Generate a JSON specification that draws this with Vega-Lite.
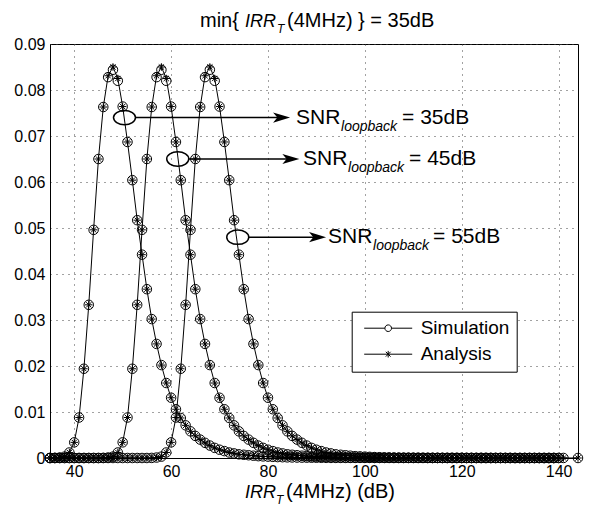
{
"$schema": "https://vega.github.io/schema/vega-lite/v6.json",
"autosize": "none",
"width": 528,
"height": 414,
"padding": {"left": 50, "top": 44, "right": 24, "bottom": 50},
"config": {
 "font": "Liberation Sans",
 "view": {"stroke": "black", "strokeWidth": 1},
 "axis": {"domainColor": "black", "labelColor": "black", "labelFontSize": 16, "labelFont": "Liberation Sans", "ticks": false, "grid": true, "gridColor": "#444", "gridDash": [1, 5], "gridWidth": 1, "labelPadding": 5}
},
"datasets": {
 "curves": [
{"snr":"35dB","irr":35,"sim":0,"ana":0},{"snr":"35dB","irr":36,"sim":0.00002,"ana":0.00002},{"snr":"35dB","irr":37,"sim":0.0001,"ana":0.0001},{"snr":"35dB","irr":38,"sim":0.0003,"ana":0.0003},{"snr":"35dB","irr":39,"sim":0.0012,"ana":0.0012},{"snr":"35dB","irr":40,"sim":0.0034,"ana":0.0034},{"snr":"35dB","irr":41,"sim":0.0088,"ana":0.0088},{"snr":"35dB","irr":42,"sim":0.0194,"ana":0.0194},{"snr":"35dB","irr":43,"sim":0.0333,"ana":0.0333},{"snr":"35dB","irr":44,"sim":0.0496,"ana":0.0496},{"snr":"35dB","irr":45,"sim":0.065,"ana":0.065},{"snr":"35dB","irr":46,"sim":0.0763,"ana":0.0763},{"snr":"35dB","irr":47,"sim":0.0828,"ana":0.0831},{"snr":"35dB","irr":48,"sim":0.0844,"ana":0.085},{"snr":"35dB","irr":49,"sim":0.082,"ana":0.0825},{"snr":"35dB","irr":50,"sim":0.0764,"ana":0.0764},{"snr":"35dB","irr":51,"sim":0.0687,"ana":0.0687},{"snr":"35dB","irr":52,"sim":0.0604,"ana":0.0604},{"snr":"35dB","irr":53,"sim":0.0517,"ana":0.0517},{"snr":"35dB","irr":54,"sim":0.0442,"ana":0.0442},{"snr":"35dB","irr":55,"sim":0.0367,"ana":0.0367},{"snr":"35dB","irr":56,"sim":0.0302,"ana":0.0302},{"snr":"35dB","irr":57,"sim":0.0248,"ana":0.0248},{"snr":"35dB","irr":58,"sim":0.0202,"ana":0.0202},{"snr":"35dB","irr":59,"sim":0.0163,"ana":0.0163},{"snr":"35dB","irr":60,"sim":0.0131,"ana":0.0131},{"snr":"35dB","irr":61,"sim":0.0106,"ana":0.0106},{"snr":"35dB","irr":62,"sim":0.0087,"ana":0.0087},{"snr":"35dB","irr":63,"sim":0.0071,"ana":0.0071},{"snr":"35dB","irr":64,"sim":0.0058,"ana":0.0058},{"snr":"35dB","irr":65,"sim":0.0048,"ana":0.0048},{"snr":"35dB","irr":66,"sim":0.004,"ana":0.004},{"snr":"35dB","irr":67,"sim":0.0033,"ana":0.0033},{"snr":"35dB","irr":68,"sim":0.0027,"ana":0.0027},{"snr":"35dB","irr":69,"sim":0.0022,"ana":0.0022},{"snr":"35dB","irr":70,"sim":0.0018,"ana":0.0018},{"snr":"35dB","irr":71,"sim":0.0015,"ana":0.0015},{"snr":"35dB","irr":72,"sim":0.0012,"ana":0.0012},{"snr":"35dB","irr":73,"sim":0.001,"ana":0.001},{"snr":"35dB","irr":74,"sim":0.0008,"ana":0.0008},{"snr":"35dB","irr":75,"sim":0.0007,"ana":0.0007},{"snr":"35dB","irr":76,"sim":0.0006,"ana":0.0006},{"snr":"35dB","irr":77,"sim":0.0005,"ana":0.0005},{"snr":"35dB","irr":78,"sim":0.0004,"ana":0.0004},{"snr":"35dB","irr":79,"sim":0.00035,"ana":0.00035},{"snr":"35dB","irr":80,"sim":0.0003,"ana":0.0003},{"snr":"35dB","irr":81,"sim":0.00025,"ana":0.00025},{"snr":"35dB","irr":82,"sim":0.0002,"ana":0.0002},{"snr":"35dB","irr":83,"sim":0.00017,"ana":0.00017},{"snr":"35dB","irr":84,"sim":0.00014,"ana":0.00014},{"snr":"35dB","irr":85,"sim":0.00012,"ana":0.00012},{"snr":"35dB","irr":86,"sim":0.0001,"ana":0.0001},{"snr":"35dB","irr":87,"sim":0.00008,"ana":0.00008},{"snr":"35dB","irr":88,"sim":0.00007,"ana":0.00007},{"snr":"35dB","irr":89,"sim":0.00006,"ana":0.00006},{"snr":"35dB","irr":90,"sim":0.00005,"ana":0.00005},{"snr":"35dB","irr":91,"sim":0.00004,"ana":0.00004},{"snr":"35dB","irr":92,"sim":0.00003,"ana":0.00003},{"snr":"35dB","irr":93,"sim":0.00002,"ana":0.00002},{"snr":"35dB","irr":94,"sim":0.00002,"ana":0.00002},{"snr":"35dB","irr":95,"sim":0.00002,"ana":0.00002},{"snr":"35dB","irr":96,"sim":0.00002,"ana":0.00002},{"snr":"35dB","irr":97,"sim":0.00002,"ana":0.00002},{"snr":"35dB","irr":98,"sim":0.00002,"ana":0.00002},{"snr":"35dB","irr":99,"sim":0.00002,"ana":0.00002},{"snr":"35dB","irr":100,"sim":0.00002,"ana":0.00002},{"snr":"35dB","irr":101,"sim":0.00002,"ana":0.00002},{"snr":"35dB","irr":102,"sim":0.00002,"ana":0.00002},{"snr":"35dB","irr":103,"sim":0.00002,"ana":0.00002},{"snr":"35dB","irr":104,"sim":0.00002,"ana":0.00002},{"snr":"35dB","irr":105,"sim":0.00002,"ana":0.00002},{"snr":"35dB","irr":106,"sim":0.00001,"ana":0.00001},{"snr":"35dB","irr":107,"sim":0.00001,"ana":0.00001},{"snr":"35dB","irr":108,"sim":0.00001,"ana":0.00001},{"snr":"35dB","irr":109,"sim":0.00001,"ana":0.00001},{"snr":"35dB","irr":110,"sim":0.00001,"ana":0.00001},{"snr":"35dB","irr":111,"sim":0.00001,"ana":0.00001},{"snr":"35dB","irr":112,"sim":0.00001,"ana":0.00001},{"snr":"35dB","irr":113,"sim":0.00001,"ana":0.00001},{"snr":"35dB","irr":114,"sim":0.00001,"ana":0.00001},{"snr":"35dB","irr":115,"sim":0.00001,"ana":0.00001},{"snr":"35dB","irr":116,"sim":0.00001,"ana":0.00001},{"snr":"35dB","irr":117,"sim":0.00001,"ana":0.00001},{"snr":"35dB","irr":118,"sim":0.00001,"ana":0.00001},{"snr":"35dB","irr":119,"sim":0.00001,"ana":0.00001},{"snr":"35dB","irr":120,"sim":0.00001,"ana":0.00001},{"snr":"35dB","irr":121,"sim":0,"ana":0},{"snr":"35dB","irr":122,"sim":0,"ana":0},{"snr":"35dB","irr":123,"sim":0,"ana":0},{"snr":"35dB","irr":124,"sim":0,"ana":0},{"snr":"35dB","irr":125,"sim":0,"ana":0},{"snr":"35dB","irr":126,"sim":0,"ana":0},{"snr":"35dB","irr":127,"sim":0,"ana":0},{"snr":"35dB","irr":128,"sim":0,"ana":0},{"snr":"35dB","irr":129,"sim":0,"ana":0},{"snr":"35dB","irr":130,"sim":0,"ana":0},{"snr":"35dB","irr":131,"sim":0,"ana":0},{"snr":"35dB","irr":132,"sim":0,"ana":0},{"snr":"35dB","irr":133,"sim":0,"ana":0},{"snr":"35dB","irr":134,"sim":0,"ana":0},{"snr":"35dB","irr":135,"sim":0,"ana":0},{"snr":"35dB","irr":136,"sim":0,"ana":0},{"snr":"35dB","irr":137,"sim":0,"ana":0},{"snr":"35dB","irr":138,"sim":0,"ana":0},{"snr":"35dB","irr":139,"sim":0,"ana":0},
{"snr":"45dB","irr":35,"sim":0,"ana":0},{"snr":"45dB","irr":36,"sim":0,"ana":0},{"snr":"45dB","irr":37,"sim":0,"ana":0},{"snr":"45dB","irr":38,"sim":0,"ana":0},{"snr":"45dB","irr":39,"sim":0,"ana":0},{"snr":"45dB","irr":40,"sim":0,"ana":0},{"snr":"45dB","irr":41,"sim":0,"ana":0},{"snr":"45dB","irr":42,"sim":0,"ana":0},{"snr":"45dB","irr":43,"sim":0,"ana":0},{"snr":"45dB","irr":44,"sim":0,"ana":0},{"snr":"45dB","irr":45,"sim":0,"ana":0},{"snr":"45dB","irr":46,"sim":0.00002,"ana":0.00002},{"snr":"45dB","irr":47,"sim":0.0001,"ana":0.0001},{"snr":"45dB","irr":48,"sim":0.0003,"ana":0.0003},{"snr":"45dB","irr":49,"sim":0.0012,"ana":0.0012},{"snr":"45dB","irr":50,"sim":0.0034,"ana":0.0034},{"snr":"45dB","irr":51,"sim":0.0088,"ana":0.0088},{"snr":"45dB","irr":52,"sim":0.0194,"ana":0.0194},{"snr":"45dB","irr":53,"sim":0.0333,"ana":0.0333},{"snr":"45dB","irr":54,"sim":0.0496,"ana":0.0496},{"snr":"45dB","irr":55,"sim":0.065,"ana":0.065},{"snr":"45dB","irr":56,"sim":0.0763,"ana":0.0763},{"snr":"45dB","irr":57,"sim":0.0828,"ana":0.0831},{"snr":"45dB","irr":58,"sim":0.0844,"ana":0.085},{"snr":"45dB","irr":59,"sim":0.082,"ana":0.0825},{"snr":"45dB","irr":60,"sim":0.0764,"ana":0.0764},{"snr":"45dB","irr":61,"sim":0.0687,"ana":0.0687},{"snr":"45dB","irr":62,"sim":0.0604,"ana":0.0604},{"snr":"45dB","irr":63,"sim":0.0517,"ana":0.0517},{"snr":"45dB","irr":64,"sim":0.0442,"ana":0.0442},{"snr":"45dB","irr":65,"sim":0.0367,"ana":0.0367},{"snr":"45dB","irr":66,"sim":0.0302,"ana":0.0302},{"snr":"45dB","irr":67,"sim":0.0248,"ana":0.0248},{"snr":"45dB","irr":68,"sim":0.0202,"ana":0.0202},{"snr":"45dB","irr":69,"sim":0.0163,"ana":0.0163},{"snr":"45dB","irr":70,"sim":0.0131,"ana":0.0131},{"snr":"45dB","irr":71,"sim":0.0106,"ana":0.0106},{"snr":"45dB","irr":72,"sim":0.0087,"ana":0.0087},{"snr":"45dB","irr":73,"sim":0.0071,"ana":0.0071},{"snr":"45dB","irr":74,"sim":0.0058,"ana":0.0058},{"snr":"45dB","irr":75,"sim":0.0048,"ana":0.0048},{"snr":"45dB","irr":76,"sim":0.004,"ana":0.004},{"snr":"45dB","irr":77,"sim":0.0033,"ana":0.0033},{"snr":"45dB","irr":78,"sim":0.0027,"ana":0.0027},{"snr":"45dB","irr":79,"sim":0.0022,"ana":0.0022},{"snr":"45dB","irr":80,"sim":0.0018,"ana":0.0018},{"snr":"45dB","irr":81,"sim":0.0015,"ana":0.0015},{"snr":"45dB","irr":82,"sim":0.0012,"ana":0.0012},{"snr":"45dB","irr":83,"sim":0.001,"ana":0.001},{"snr":"45dB","irr":84,"sim":0.0008,"ana":0.0008},{"snr":"45dB","irr":85,"sim":0.0007,"ana":0.0007},{"snr":"45dB","irr":86,"sim":0.0006,"ana":0.0006},{"snr":"45dB","irr":87,"sim":0.0005,"ana":0.0005},{"snr":"45dB","irr":88,"sim":0.0004,"ana":0.0004},{"snr":"45dB","irr":89,"sim":0.00035,"ana":0.00035},{"snr":"45dB","irr":90,"sim":0.0003,"ana":0.0003},{"snr":"45dB","irr":91,"sim":0.00025,"ana":0.00025},{"snr":"45dB","irr":92,"sim":0.0002,"ana":0.0002},{"snr":"45dB","irr":93,"sim":0.00017,"ana":0.00017},{"snr":"45dB","irr":94,"sim":0.00014,"ana":0.00014},{"snr":"45dB","irr":95,"sim":0.00012,"ana":0.00012},{"snr":"45dB","irr":96,"sim":0.0001,"ana":0.0001},{"snr":"45dB","irr":97,"sim":0.00008,"ana":0.00008},{"snr":"45dB","irr":98,"sim":0.00007,"ana":0.00007},{"snr":"45dB","irr":99,"sim":0.00006,"ana":0.00006},{"snr":"45dB","irr":100,"sim":0.00005,"ana":0.00005},{"snr":"45dB","irr":101,"sim":0.00004,"ana":0.00004},{"snr":"45dB","irr":102,"sim":0.00003,"ana":0.00003},{"snr":"45dB","irr":103,"sim":0.00002,"ana":0.00002},{"snr":"45dB","irr":104,"sim":0.00002,"ana":0.00002},{"snr":"45dB","irr":105,"sim":0.00002,"ana":0.00002},{"snr":"45dB","irr":106,"sim":0.00002,"ana":0.00002},{"snr":"45dB","irr":107,"sim":0.00002,"ana":0.00002},{"snr":"45dB","irr":108,"sim":0.00002,"ana":0.00002},{"snr":"45dB","irr":109,"sim":0.00002,"ana":0.00002},{"snr":"45dB","irr":110,"sim":0.00002,"ana":0.00002},{"snr":"45dB","irr":111,"sim":0.00002,"ana":0.00002},{"snr":"45dB","irr":112,"sim":0.00002,"ana":0.00002},{"snr":"45dB","irr":113,"sim":0.00002,"ana":0.00002},{"snr":"45dB","irr":114,"sim":0.00002,"ana":0.00002},{"snr":"45dB","irr":115,"sim":0.00002,"ana":0.00002},{"snr":"45dB","irr":116,"sim":0.00001,"ana":0.00001},{"snr":"45dB","irr":117,"sim":0.00001,"ana":0.00001},{"snr":"45dB","irr":118,"sim":0.00001,"ana":0.00001},{"snr":"45dB","irr":119,"sim":0.00001,"ana":0.00001},{"snr":"45dB","irr":120,"sim":0.00001,"ana":0.00001},{"snr":"45dB","irr":121,"sim":0.00001,"ana":0.00001},{"snr":"45dB","irr":122,"sim":0.00001,"ana":0.00001},{"snr":"45dB","irr":123,"sim":0.00001,"ana":0.00001},{"snr":"45dB","irr":124,"sim":0.00001,"ana":0.00001},{"snr":"45dB","irr":125,"sim":0.00001,"ana":0.00001},{"snr":"45dB","irr":126,"sim":0.00001,"ana":0.00001},{"snr":"45dB","irr":127,"sim":0.00001,"ana":0.00001},{"snr":"45dB","irr":128,"sim":0.00001,"ana":0.00001},{"snr":"45dB","irr":129,"sim":0.00001,"ana":0.00001},{"snr":"45dB","irr":130,"sim":0.00001,"ana":0.00001},{"snr":"45dB","irr":131,"sim":0,"ana":0},{"snr":"45dB","irr":132,"sim":0,"ana":0},{"snr":"45dB","irr":133,"sim":0,"ana":0},{"snr":"45dB","irr":134,"sim":0,"ana":0},{"snr":"45dB","irr":135,"sim":0,"ana":0},{"snr":"45dB","irr":136,"sim":0,"ana":0},{"snr":"45dB","irr":137,"sim":0,"ana":0},{"snr":"45dB","irr":138,"sim":0,"ana":0},{"snr":"45dB","irr":139,"sim":0,"ana":0},{"snr":"45dB","irr":140,"sim":0,"ana":0},
{"snr":"55dB","irr":35,"sim":0,"ana":0},{"snr":"55dB","irr":36,"sim":0,"ana":0},{"snr":"55dB","irr":37,"sim":0,"ana":0},{"snr":"55dB","irr":38,"sim":0,"ana":0},{"snr":"55dB","irr":39,"sim":0,"ana":0},{"snr":"55dB","irr":40,"sim":0,"ana":0},{"snr":"55dB","irr":41,"sim":0,"ana":0},{"snr":"55dB","irr":42,"sim":0,"ana":0},{"snr":"55dB","irr":43,"sim":0,"ana":0},{"snr":"55dB","irr":44,"sim":0,"ana":0},{"snr":"55dB","irr":45,"sim":0,"ana":0},{"snr":"55dB","irr":46,"sim":0,"ana":0},{"snr":"55dB","irr":47,"sim":0,"ana":0},{"snr":"55dB","irr":48,"sim":0,"ana":0},{"snr":"55dB","irr":49,"sim":0,"ana":0},{"snr":"55dB","irr":50,"sim":0,"ana":0},{"snr":"55dB","irr":51,"sim":0,"ana":0},{"snr":"55dB","irr":52,"sim":0,"ana":0},{"snr":"55dB","irr":53,"sim":0,"ana":0},{"snr":"55dB","irr":54,"sim":0,"ana":0},{"snr":"55dB","irr":55,"sim":0,"ana":0},{"snr":"55dB","irr":56,"sim":0.00002,"ana":0.00002},{"snr":"55dB","irr":57,"sim":0.0001,"ana":0.0001},{"snr":"55dB","irr":58,"sim":0.0003,"ana":0.0003},{"snr":"55dB","irr":59,"sim":0.0012,"ana":0.0012},{"snr":"55dB","irr":60,"sim":0.0034,"ana":0.0034},{"snr":"55dB","irr":61,"sim":0.0088,"ana":0.0088},{"snr":"55dB","irr":62,"sim":0.0194,"ana":0.0194},{"snr":"55dB","irr":63,"sim":0.0333,"ana":0.0333},{"snr":"55dB","irr":64,"sim":0.0496,"ana":0.0496},{"snr":"55dB","irr":65,"sim":0.065,"ana":0.065},{"snr":"55dB","irr":66,"sim":0.0763,"ana":0.0763},{"snr":"55dB","irr":67,"sim":0.0828,"ana":0.0831},{"snr":"55dB","irr":68,"sim":0.0844,"ana":0.085},{"snr":"55dB","irr":69,"sim":0.082,"ana":0.0825},{"snr":"55dB","irr":70,"sim":0.0764,"ana":0.0764},{"snr":"55dB","irr":71,"sim":0.0687,"ana":0.0687},{"snr":"55dB","irr":72,"sim":0.0604,"ana":0.0604},{"snr":"55dB","irr":73,"sim":0.0517,"ana":0.0517},{"snr":"55dB","irr":74,"sim":0.0442,"ana":0.0442},{"snr":"55dB","irr":75,"sim":0.0367,"ana":0.0367},{"snr":"55dB","irr":76,"sim":0.0302,"ana":0.0302},{"snr":"55dB","irr":77,"sim":0.0248,"ana":0.0248},{"snr":"55dB","irr":78,"sim":0.0202,"ana":0.0202},{"snr":"55dB","irr":79,"sim":0.0163,"ana":0.0163},{"snr":"55dB","irr":80,"sim":0.0131,"ana":0.0131},{"snr":"55dB","irr":81,"sim":0.0106,"ana":0.0106},{"snr":"55dB","irr":82,"sim":0.0087,"ana":0.0087},{"snr":"55dB","irr":83,"sim":0.0071,"ana":0.0071},{"snr":"55dB","irr":84,"sim":0.0058,"ana":0.0058},{"snr":"55dB","irr":85,"sim":0.0048,"ana":0.0048},{"snr":"55dB","irr":86,"sim":0.004,"ana":0.004},{"snr":"55dB","irr":87,"sim":0.0033,"ana":0.0033},{"snr":"55dB","irr":88,"sim":0.0027,"ana":0.0027},{"snr":"55dB","irr":89,"sim":0.0022,"ana":0.0022},{"snr":"55dB","irr":90,"sim":0.0018,"ana":0.0018},{"snr":"55dB","irr":91,"sim":0.0015,"ana":0.0015},{"snr":"55dB","irr":92,"sim":0.0012,"ana":0.0012},{"snr":"55dB","irr":93,"sim":0.001,"ana":0.001},{"snr":"55dB","irr":94,"sim":0.0008,"ana":0.0008},{"snr":"55dB","irr":95,"sim":0.0007,"ana":0.0007},{"snr":"55dB","irr":96,"sim":0.0006,"ana":0.0006},{"snr":"55dB","irr":97,"sim":0.0005,"ana":0.0005},{"snr":"55dB","irr":98,"sim":0.0004,"ana":0.0004},{"snr":"55dB","irr":99,"sim":0.00035,"ana":0.00035},{"snr":"55dB","irr":100,"sim":0.0003,"ana":0.0003},{"snr":"55dB","irr":101,"sim":0.00025,"ana":0.00025},{"snr":"55dB","irr":102,"sim":0.0002,"ana":0.0002},{"snr":"55dB","irr":103,"sim":0.00017,"ana":0.00017},{"snr":"55dB","irr":104,"sim":0.00014,"ana":0.00014},{"snr":"55dB","irr":105,"sim":0.00012,"ana":0.00012},{"snr":"55dB","irr":106,"sim":0.0001,"ana":0.0001},{"snr":"55dB","irr":107,"sim":0.00008,"ana":0.00008},{"snr":"55dB","irr":108,"sim":0.00007,"ana":0.00007},{"snr":"55dB","irr":109,"sim":0.00006,"ana":0.00006},{"snr":"55dB","irr":110,"sim":0.00005,"ana":0.00005},{"snr":"55dB","irr":111,"sim":0.00004,"ana":0.00004},{"snr":"55dB","irr":112,"sim":0.00003,"ana":0.00003},{"snr":"55dB","irr":113,"sim":0.00002,"ana":0.00002},{"snr":"55dB","irr":114,"sim":0.00002,"ana":0.00002},{"snr":"55dB","irr":115,"sim":0.00002,"ana":0.00002},{"snr":"55dB","irr":116,"sim":0.00002,"ana":0.00002},{"snr":"55dB","irr":117,"sim":0.00002,"ana":0.00002},{"snr":"55dB","irr":118,"sim":0.00002,"ana":0.00002},{"snr":"55dB","irr":119,"sim":0.00002,"ana":0.00002},{"snr":"55dB","irr":120,"sim":0.00002,"ana":0.00002},{"snr":"55dB","irr":121,"sim":0.00002,"ana":0.00002},{"snr":"55dB","irr":122,"sim":0.00002,"ana":0.00002},{"snr":"55dB","irr":123,"sim":0.00002,"ana":0.00002},{"snr":"55dB","irr":124,"sim":0.00002,"ana":0.00002},{"snr":"55dB","irr":125,"sim":0.00002,"ana":0.00002},{"snr":"55dB","irr":126,"sim":0.00001,"ana":0.00001},{"snr":"55dB","irr":127,"sim":0.00001,"ana":0.00001},{"snr":"55dB","irr":128,"sim":0.00001,"ana":0.00001},{"snr":"55dB","irr":129,"sim":0.00001,"ana":0.00001},{"snr":"55dB","irr":130,"sim":0.00001,"ana":0.00001},{"snr":"55dB","irr":131,"sim":0.00001,"ana":0.00001},{"snr":"55dB","irr":132,"sim":0.00001,"ana":0.00001},{"snr":"55dB","irr":133,"sim":0.00001,"ana":0.00001},{"snr":"55dB","irr":134,"sim":0.00001,"ana":0.00001},{"snr":"55dB","irr":135,"sim":0.00001,"ana":0.00001},{"snr":"55dB","irr":136,"sim":0.00001,"ana":0.00001},{"snr":"55dB","irr":137,"sim":0.00001,"ana":0.00001},{"snr":"55dB","irr":138,"sim":0.00001,"ana":0.00001},{"snr":"55dB","irr":139,"sim":0.00001,"ana":0.00001},{"snr":"55dB","irr":140,"sim":0.00001,"ana":0.00001},{"snr":"55dB","irr":141,"sim":0.00001,"ana":0.00001},{"snr":"55dB","irr":144,"sim":0,"ana":0}
 ],
 "legend": [{"series": "Simulation"}, {"series": "Analysis"}]
},
"layer": [
 {
  "data": {"name": "curves"},
  "mark": {"type": "line", "color": "black", "strokeWidth": 1},
  "encoding": {
   "x": {"field": "irr", "type": "quantitative", "title": null, "scale": {"domain": [35, 144], "nice": false, "zero": false}, "axis": {"values": [40, 60, 80, 100, 120, 140], "title": null}},
   "y": {"field": "ana", "type": "quantitative", "title": null, "scale": {"domain": [0, 0.09], "nice": false}, "axis": {"values": [0, 0.01, 0.02, 0.03, 0.04, 0.05, 0.06, 0.07, 0.08, 0.09], "labelExpr": "datum.value == 0 ? '0' : format(datum.value, '.2f')", "title": null}},
   "detail": {"field": "snr"}
  }
 },
 {
  "data": {"name": "curves"},
  "mark": {"type": "point", "shape": "circle", "filled": false, "color": "black", "size": 90, "strokeWidth": 1, "opacity": 1},
  "encoding": {
   "x": {"field": "irr", "type": "quantitative", "title": null},
   "y": {"field": "sim", "type": "quantitative", "title": null}
  }
 },
 {
  "data": {"name": "curves"},
  "mark": {"type": "point", "shape": "M0,-1L0,1M-1,0L1,0M-0.7,-0.7L0.7,0.7M-0.7,0.7L0.7,-0.7", "filled": false, "color": "black", "size": 56, "strokeWidth": 1, "opacity": 1},
  "encoding": {
   "x": {"field": "irr", "type": "quantitative", "title": null},
   "y": {"field": "ana", "type": "quantitative", "title": null}
  }
 },
 {
  "data": {"name": "legend"},
  "transform": [{"filter": "false"}],
  "mark": {"type": "point", "filled": false, "color": "black", "opacity": 1},
  "encoding": {
   "shape": {"field": "series", "type": "nominal", "scale": {"domain": ["Simulation", "Analysis"], "range": ["M-4,0L-0.55,0M0.55,0L4,0M0.55,0A0.55,0.55,0,1,1,-0.55,0A0.55,0.55,0,1,1,0.55,0", "M-4,0L4,0M0,-0.55L0,0.55M-0.4,-0.4L0.4,0.4M-0.4,0.4L0.4,-0.4"]},
    "legend": {"title": null, "orient": "none", "legendX": 301.7, "legendY": 267.7, "strokeColor": "black", "fillColor": "white", "padding": 7, "symbolSize": 144, "symbolStrokeWidth": 1, "symbolStrokeColor": "black", "symbolFillColor": "transparent", "symbolOffset": 20, "labelOffset": 23, "labelFontSize": 19, "labelColor": "black", "labelFont": "Liberation Sans", "rowPadding": 6}}
  }
 },
 {
  "data": {"values": [{"irr": 50.38, "val": 0.074}, {"irr": 61.37, "val": 0.065}, {"irr": 73.76, "val": 0.048}]},
  "mark": {"type": "point", "shape": "M1,0A1,0.65,0,1,1,-1,0A1,0.65,0,1,1,1,0Z", "filled": false, "color": "black", "size": 484, "strokeWidth": 1.5, "opacity": 1},
  "encoding": {
   "x": {"field": "irr", "type": "quantitative", "title": null},
   "y": {"field": "val", "type": "quantitative", "title": null}
  }
 },
 {
  "data": {"values": [{"irr": 52.65, "end": 83.0, "val": 0.074}, {"irr": 63.64, "end": 85.0, "val": 0.065}, {"irr": 76.03, "end": 90.5, "val": 0.048}]},
  "mark": {"type": "rule", "color": "black", "strokeWidth": 1.5},
  "encoding": {
   "x": {"field": "irr", "type": "quantitative", "title": null},
   "x2": {"field": "end"},
   "y": {"field": "val", "type": "quantitative", "title": null}
  }
 },
 {
  "data": {"values": [{"irr": 84.56, "val": 0.074}, {"irr": 86.48, "val": 0.065}, {"irr": 91.99, "val": 0.048}]},
  "mark": {"type": "point", "shape": "M0,0L-2,-0.6L-1.5,0L-2,0.6Z", "filled": true, "color": "black", "size": 289, "opacity": 1, "strokeWidth": 0},
  "encoding": {
   "x": {"field": "irr", "type": "quantitative", "title": null},
   "y": {"field": "val", "type": "quantitative", "title": null}
  }
 },
 {
  "data": {"values": [
   {"irr": 65.97, "val": 0.09376, "text": "min{"},
   {"irr": 83.93, "val": 0.09376, "text": "(4MHz) } = 35dB"},
   {"irr": 83.73, "val": -0.00876, "text": "(4MHz) (dB)"}
  ]},
  "mark": {"type": "text", "align": "left", "baseline": "alphabetic", "fontSize": 20, "color": "black", "font": "Liberation Sans"},
  "encoding": {
   "x": {"field": "irr", "type": "quantitative", "title": null},
   "y": {"field": "val", "type": "quantitative", "title": null},
   "text": {"field": "text"}
  }
 },
 {
  "data": {"values": [
   {"irr": 85.79, "val": 0.0727, "text": "SNR"},
   {"irr": 107.68, "val": 0.0727, "text": "= 35dB"},
   {"irr": 87.24, "val": 0.0637, "text": "SNR"},
   {"irr": 109.12, "val": 0.0637, "text": "= 45dB"},
   {"irr": 92.4, "val": 0.0467, "text": "SNR"},
   {"irr": 114.08, "val": 0.0467, "text": "= 55dB"}
  ]},
  "mark": {"type": "text", "align": "left", "baseline": "alphabetic", "fontSize": 21, "color": "black", "font": "Liberation Sans"},
  "encoding": {
   "x": {"field": "irr", "type": "quantitative", "title": null},
   "y": {"field": "val", "type": "quantitative", "title": null},
   "text": {"field": "text"}
  }
 },
 {
  "data": {"values": [
   {"irr": 75.26, "val": 0.09376, "text": "IRR"},
   {"irr": 75.26, "val": -0.00876, "text": "IRR"}
  ]},
  "mark": {"type": "text", "align": "left", "baseline": "alphabetic", "fontSize": 18, "fontStyle": "italic", "color": "black", "font": "Liberation Sans"},
  "encoding": {
   "x": {"field": "irr", "type": "quantitative", "title": null},
   "y": {"field": "val", "type": "quantitative", "title": null},
   "text": {"field": "text"}
  }
 },
 {
  "data": {"values": [
   {"irr": 81.87, "val": 0.09376, "text": "T"},
   {"irr": 81.67, "val": -0.00876, "text": "T"}
  ]},
  "mark": {"type": "text", "align": "left", "baseline": "alphabetic", "fontSize": 12, "fontStyle": "italic", "dy": 6, "color": "black", "font": "Liberation Sans"},
  "encoding": {
   "x": {"field": "irr", "type": "quantitative", "title": null},
   "y": {"field": "val", "type": "quantitative", "title": null},
   "text": {"field": "text"}
  }
 },
 {
  "data": {"values": [
   {"irr": 95.09, "val": 0.0727, "text": "loopback"},
   {"irr": 96.53, "val": 0.0637, "text": "loopback"},
   {"irr": 101.69, "val": 0.0467, "text": "loopback"}
  ]},
  "mark": {"type": "text", "align": "left", "baseline": "alphabetic", "fontSize": 14, "fontStyle": "italic", "dy": 7, "color": "black", "font": "Liberation Sans"},
  "encoding": {
   "x": {"field": "irr", "type": "quantitative", "title": null},
   "y": {"field": "val", "type": "quantitative", "title": null},
   "text": {"field": "text"}
  }
 }
]
}
